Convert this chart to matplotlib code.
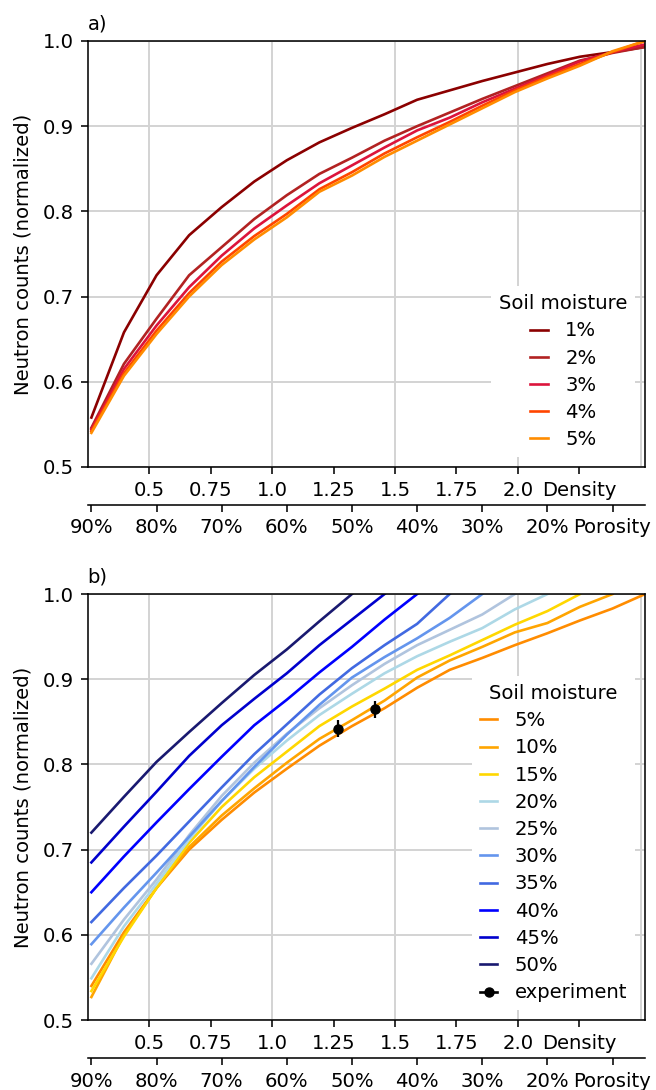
import numpy as np
import matplotlib
matplotlib.use('Agg')
import matplotlib.pyplot as plt
from matplotlib.lines import Line2D

# porosity steps of the simulated soil columns, 90% down to 5%
porosity = [0.90, 0.85, 0.80, 0.75, 0.70, 0.65, 0.60, 0.55, 0.50,
            0.45, 0.40, 0.35, 0.30, 0.25, 0.20, 0.15, 0.10, 0.05]
grain_density = 2.65

# panel a) low soil moisture
labels_a = ['1%', '2%', '3%', '4%', '5%']
colors_a = ['darkred', 'firebrick', 'crimson', 'orangered', 'darkorange']
sm1 = [0.558, 0.658, 0.725, 0.772, 0.805, 0.835, 0.860, 0.881, 0.898,
       0.914, 0.931, 0.942, 0.953, 0.963, 0.973, 0.9815, 0.987, 0.993]
sm2 = [0.546, 0.621, 0.674, 0.725, 0.758, 0.791, 0.819, 0.844, 0.863,
       0.883, 0.900, 0.916, 0.932, 0.947, 0.962, 0.977, 0.986, 0.993]
sm3 = [0.544, 0.615, 0.666, 0.711, 0.748, 0.780, 0.807, 0.833, 0.854,
       0.875, 0.895, 0.910, 0.928, 0.944, 0.960, 0.976, 0.987, 0.996]
sm4 = [0.542, 0.610, 0.660, 0.704, 0.741, 0.771, 0.797, 0.826, 0.846,
       0.868, 0.887, 0.905, 0.924, 0.942, 0.958, 0.973, 0.987, 1.0]
sm5 = [0.540, 0.607, 0.656, 0.700, 0.737, 0.767, 0.793, 0.823, 0.842,
       0.864, 0.883, 0.902, 0.921, 0.940, 0.956, 0.971, 0.988, 1.0]
series_a = [sm1, sm2, sm3, sm4, sm5]

# panel b) higher soil moisture, each curve stops at porosity == moisture
labels_b = ['5%', '10%', '15%', '20%', '25%', '30%', '35%', '40%', '45%', '50%']
colors_b = ['darkorange', 'orange', 'gold', 'lightblue', 'lightsteelblue',
            'cornflowerblue', 'royalblue', 'blue', 'mediumblue', 'midnightblue']
b05 = [0.540, 0.603, 0.655, 0.700, 0.735, 0.767, 0.795, 0.822, 0.845,
       0.866, 0.890, 0.911, 0.925, 0.940, 0.954, 0.969, 0.983, 1.0]
b10 = [0.527, 0.600, 0.655, 0.703, 0.740, 0.772, 0.802, 0.830, 0.852,
       0.875, 0.902, 0.922, 0.938, 0.955, 0.966, 0.985, 1.0]
b15 = [0.534, 0.598, 0.655, 0.708, 0.750, 0.785, 0.815, 0.845, 0.868,
       0.889, 0.911, 0.928, 0.946, 0.964, 0.980, 1.0]
b20 = [0.549, 0.610, 0.660, 0.712, 0.757, 0.795, 0.828, 0.858, 0.883,
       0.907, 0.927, 0.944, 0.960, 0.982, 1.0]
b25 = [0.566, 0.618, 0.665, 0.717, 0.763, 0.802, 0.836, 0.866, 0.893,
       0.918, 0.940, 0.958, 0.976, 1.0]
b30 = [0.589, 0.632, 0.673, 0.715, 0.757, 0.797, 0.835, 0.870, 0.902,
       0.926, 0.948, 0.972, 1.0]
b35 = [0.615, 0.655, 0.693, 0.733, 0.773, 0.812, 0.847, 0.882, 0.913,
       0.940, 0.965, 1.0]
b40 = [0.650, 0.692, 0.732, 0.771, 0.809, 0.846, 0.876, 0.908, 0.938,
       0.970, 1.0]
b45 = [0.685, 0.727, 0.768, 0.810, 0.846, 0.877, 0.907, 0.940, 0.970, 1.0]
b50 = [0.720, 0.762, 0.803, 0.838, 0.872, 0.905, 0.935, 0.968, 1.0]
series_b = [b05, b10, b15, b20, b25, b30, b35, b40, b45, b50]

# measured points
exp_density = [1.27, 1.42]
exp_counts = [0.842, 0.865]
exp_err = [0.010, 0.010]

density_ticks = [0.75, 1.25, 1.75, 2.25]
density_labels = ['0.75', '1.25', '1.75', 'Density']
porosity_ticks = [90, 80, 70, 60, 50, 40, 30, 20, 10]
porosity_labels = ['90%', '80%', '70%', '60%', '50%', '40%', '30%', '20%', 'Porosity']

FS = 14.1
plt.rcParams['font.size'] = FS
plt.rcParams['axes.linewidth'] = 1.13
plt.rcParams['xtick.major.width'] = 1.13
plt.rcParams['ytick.major.width'] = 1.13
plt.rcParams['xtick.minor.width'] = 1.13
plt.rcParams['xtick.major.size'] = 4.9
plt.rcParams['xtick.minor.size'] = 4.9
plt.rcParams['ytick.major.size'] = 4.9
plt.rcParams['xtick.major.pad'] = 4.9
plt.rcParams['xtick.minor.pad'] = 4.9
plt.rcParams['ytick.major.pad'] = 4.9

density = [(1 - p) * grain_density for p in porosity]


def d2p(d):
    return (1 - np.asarray(d) / grain_density) * 100


def p2d(p):
    return (1 - np.asarray(p) / 100) * grain_density


def style_axes(ax, tag):
    ax.set_xlim(0.25, density[-1])
    ax.set_ylim(0.5, 1.0)
    ax.set_yticks([0.5, 0.6, 0.7, 0.8, 0.9, 1.0])
    # grid follows the major ticks only, the in-between ones are minor
    ax.set_xticks([0.5, 1.0, 1.5, 2.0, 2.5])
    ax.set_xticklabels(['0.5', '1.0', '1.5', '2.0', ''])
    ax.set_xticks(density_ticks, minor=True)
    ax.set_xticklabels(density_labels, minor=True)
    ax.xaxis.get_major_ticks()[-1].tick1line.set_visible(False)
    ax.grid(True, which='major', color='#d3d3d3', linewidth=1.4)
    ax.set_axisbelow(True)
    ax.set_ylabel('Neutron counts (normalized)', labelpad=7.5)
    ax.set_title(tag, loc='left', fontsize=FS, pad=8)
    sec = ax.secondary_xaxis(-0.089, functions=(d2p, p2d))
    sec.set_xticks(porosity_ticks)
    sec.set_xticklabels(porosity_labels)
    sec.tick_params(length=4.9, width=1.13, pad=4.9)


def add_legend(ax, handles, labels):
    ax.legend(handles, labels, title='Soil moisture', loc='lower right',
              fontsize=FS, title_fontsize=FS, handlelength=0.9,
              handletextpad=0.9, labelspacing=0.42, framealpha=1,
              edgecolor='none', fancybox=False)


fig = plt.figure(figsize=(6.56, 10.9), dpi=100)
ax1 = fig.add_axes([0.1337, 0.5716, 0.8497, 0.3908])
ax2 = fig.add_axes([0.1337, 0.0642, 0.8497, 0.3908])

lines_a = []
for vals, col in zip(series_a, colors_a):
    ln, = ax1.plot(density[:len(vals)], vals, color=col, lw=1.9)
    lines_a.append(ln)
style_axes(ax1, 'a)')
add_legend(ax1, lines_a, labels_a)

lines_b = []
for vals, col in zip(series_b, colors_b):
    ln, = ax2.plot(density[:len(vals)], vals, color=col, lw=1.9)
    lines_b.append(ln)
ax2.errorbar(exp_density, exp_counts, yerr=exp_err, fmt='o', color='black',
             markersize=6.5, elinewidth=1.6, capsize=0)
exp_handle = Line2D([], [], color='black', marker='o', markersize=6.5, lw=1.9)
style_axes(ax2, 'b)')
add_legend(ax2, lines_b + [exp_handle], labels_b + ['experiment'])

fig.savefig('out.png', dpi=100)
